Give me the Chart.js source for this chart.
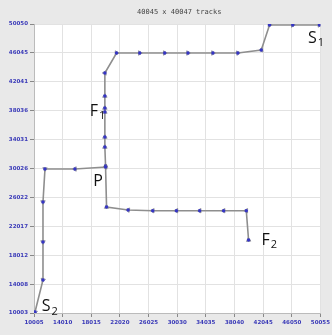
<!DOCTYPE html>
<html>
<head>
<meta charset="utf-8">
<script src="https://cdn.jsdelivr.net/npm/chart.js@4/dist/chart.umd.min.js"></script>
<style>
  html, body { margin: 0; padding: 0; background: #e9e9e9; }
  #wrap { width: 332px; height: 335px; }
</style>
</head>
<body>
<div id="wrap"><canvas id="chart" width="332" height="335"></canvas></div>
<script>
// axis ticks
const xTicks = [10005, 14010, 18015, 22020, 26025, 30030, 34035, 38040, 42045, 46050, 50055];
const yTicks = [10003, 14008, 18012, 22017, 26022, 30026, 34031, 38036, 42041, 46045, 50050];

// track from F2 through P to S2
const trackAX = [40008, 39687, 36520, 33170, 29919, 26611, 23165, 20150, 20011, 15727, 11540, 11261, 11261, 11261, 10145];
const trackAY = [20119, 24179, 24179, 24179, 24179, 24179, 24276, 24691, 30234, 29957, 29957, 25384, 19841, 14576, 10142];

// track from P up to S1
const trackBX = [20011, 19913, 19913, 19913, 19913, 19913, 19913, 21546, 24797, 28286, 31538, 35026, 38515, 41781, 42939, 46190, 49916];
const trackBY = [30373, 33006, 34391, 37856, 38410, 40073, 43260, 46031, 46031, 46031, 46031, 46031, 46031, 46447, 49911, 49911, 49916];

// point labels: text, subscript, data x, data y
const marks = [
  ['S', '1', 48300, 48100],
  ['F', '1', 17800, 38000],
  ['P', '',  18300, 28300],
  ['F', '2', 41800, 20100],
  ['S', '2', 11100, 10900]
];

function toPoints(xs, ys) {
  return xs.map((x, i) => ({ x: x, y: ys[i] }));
}

function arrowAngles(xs, ys) {
  return xs.map((x, i) => {
    const j = i < xs.length - 1 ? i : i - 1;
    const dx = (xs[j + 1] - xs[j]) / 139.5;
    const dy = (ys[j + 1] - ys[j]) / 138.6;
    return Math.atan2(dx, dy) * 180 / Math.PI;
  });
}

const lineGray = '#8e8e8e';
const dotBlue = '#3535c4';

function trackSets(xs, ys) {
  const pts = toPoints(xs, ys);
  return [{
    data: pts,
    showLine: true,
    borderColor: lineGray,
    borderWidth: 1.6,
    pointStyle: 'circle',
    pointRadius: 1.7,
    pointBackgroundColor: dotBlue,
    pointBorderColor: dotBlue,
    pointBorderWidth: 0
  }, {
    data: pts,
    showLine: false,
    pointStyle: 'triangle',
    pointRadius: 2.6,
    rotation: arrowAngles(xs, ys),
    pointBackgroundColor: 'rgba(140,140,150,0.35)',
    pointBorderColor: 'rgba(110,110,125,0.8)',
    pointBorderWidth: 0.8
  }];
}

const decor = {
  id: 'decor',
  beforeDraw(chart) {
    const { ctx, chartArea: a } = chart;
    ctx.save();
    ctx.fillStyle = '#ffffff';
    ctx.fillRect(a.left, a.top, a.right - a.left, a.bottom - a.top);
    ctx.restore();
  },
  afterDraw(chart) {
    const { ctx, chartArea: a, scales } = chart;
    ctx.save();
    ctx.fillStyle = '#444';
    ctx.font = '7px "DejaVu Sans Mono"';
    ctx.textAlign = 'center';
    ctx.textBaseline = 'middle';
    ctx.fillText('40045 x 40047 tracks', (a.left + a.right) / 2 + 2, 12);

    ctx.fillStyle = '#111';
    ctx.textBaseline = 'middle';
    ctx.textAlign = 'left';
    marks.forEach(m => {
      const px = scales.x.getPixelForValue(m[2]);
      const py = scales.y.getPixelForValue(m[3]);
      ctx.font = '16px "Open Sans"';
      ctx.fillText(m[0], px, py);
      const w = ctx.measureText(m[0]).width;
      if (m[1]) {
        ctx.font = '11px "Open Sans"';
        ctx.fillText(m[1], px + w + 1, py + 5);
      }
    });
    ctx.restore();
  }
};

const tickFont = { family: 'DejaVu Sans', size: 5.5, weight: 'bold' };

new Chart(document.getElementById('chart'), {
  type: 'scatter',
  data: {
    datasets: [...trackSets(trackAX, trackAY), ...trackSets(trackBX, trackBY)]
  },
  options: {
    responsive: false,
    animation: false,
    layout: { padding: { top: 24, right: 11, left: 0, bottom: 0 } },
    plugins: { legend: { display: false }, tooltip: { enabled: false }, title: { display: false } },
    scales: {
      x: {
        type: 'linear',
        min: xTicks[0],
        max: xTicks[xTicks.length - 1],
        afterBuildTicks: s => { s.ticks = xTicks.map(v => ({ value: v })); },
        afterFit: s => { s.height = 22; },
        ticks: {
          color: '#3a3ab8',
          font: tickFont,
          padding: 2,
          maxRotation: 0,
          autoSkip: false,
          callback: (v, i) => String(xTicks[i])
        },
        grid: { color: '#e2e2e2', tickColor: '#888', tickLength: 4, lineWidth: 1 },
        border: { color: '#bbb' }
      },
      y: {
        type: 'linear',
        min: yTicks[0],
        max: yTicks[yTicks.length - 1],
        afterBuildTicks: s => { s.ticks = yTicks.map(v => ({ value: v })); },
        afterFit: s => { s.width = 34; },
        ticks: {
          color: '#3a3ab8',
          font: tickFont,
          padding: 2,
          autoSkip: false,
          callback: (v, i) => String(yTicks[i])
        },
        grid: { color: '#e2e2e2', tickColor: '#888', tickLength: 4, lineWidth: 1 },
        border: { color: '#bbb' }
      }
    }
  },
  plugins: [decor]
});
</script>
</body>
</html>
